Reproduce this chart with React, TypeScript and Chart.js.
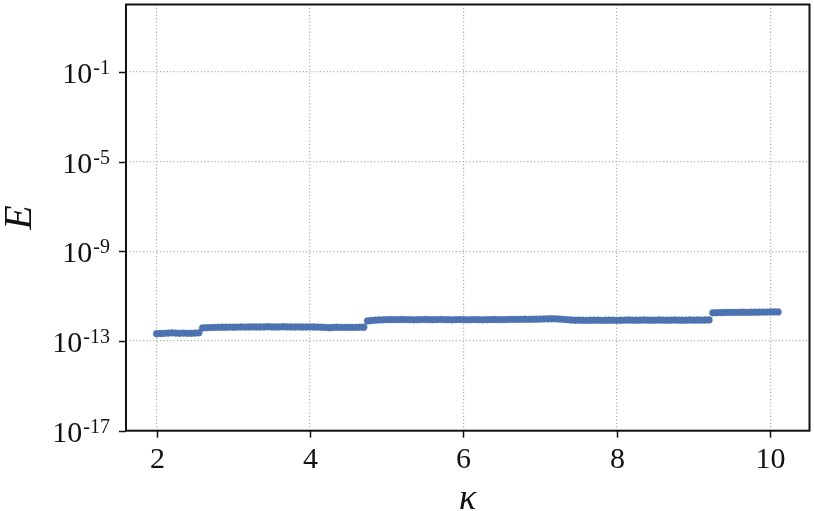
import React, { useEffect, useRef } from "react";
import { Chart, registerables } from "chart.js";

Chart.register(...registerables);

const kappa: number[] = [
  2.0, 2.05, 2.1, 2.15, 2.2, 2.25, 2.3, 2.35, 2.4, 2.45, 2.5, 2.55,
  2.6, 2.65, 2.7, 2.75, 2.8, 2.85, 2.9, 2.95, 3.0, 3.05, 3.1, 3.15, 3.2, 3.25, 3.3, 3.35, 3.4, 3.45,
  3.5, 3.55, 3.6, 3.65, 3.7, 3.75, 3.8, 3.85, 3.9, 3.95, 4.0, 4.05, 4.1, 4.15, 4.2, 4.25, 4.3, 4.35,
  4.4, 4.45, 4.5, 4.55, 4.6, 4.65, 4.7,
  4.75, 4.8, 4.85, 4.9, 4.95, 5.0, 5.05, 5.1, 5.15, 5.2, 5.25, 5.3, 5.35, 5.4, 5.45, 5.5, 5.55, 5.6,
  5.65, 5.7, 5.75, 5.8, 5.85, 5.9, 5.95, 6.0, 6.05, 6.1, 6.15, 6.2, 6.25, 6.3, 6.35, 6.4, 6.45, 6.5,
  6.55, 6.6, 6.65, 6.7, 6.75, 6.8, 6.85, 6.9, 6.95, 7.0, 7.05, 7.1, 7.15, 7.2, 7.25, 7.3, 7.35, 7.4,
  7.45, 7.5, 7.55, 7.6, 7.65, 7.7, 7.75, 7.8, 7.85, 7.9, 7.95, 8.0, 8.05, 8.1, 8.15, 8.2, 8.25, 8.3,
  8.35, 8.4, 8.45, 8.5, 8.55, 8.6, 8.65, 8.7, 8.75, 8.8, 8.85, 8.9, 8.95, 9.0, 9.05, 9.1, 9.15, 9.2,
  9.25, 9.3, 9.35, 9.4, 9.45, 9.5, 9.55, 9.6, 9.65, 9.7, 9.75, 9.8, 9.85, 9.9, 9.95, 10.0, 10.05, 10.1,
];

const errorE: number[] = [
  2.1e-13, 2.15e-13, 2.2e-13, 2.25e-13, 2.3e-13, 2.25e-13, 2.2e-13, 2.25e-13, 2.2e-13, 2.2e-13, 2.25e-13, 2.3e-13,
  3.8e-13, 3.9e-13, 3.95e-13, 4.0e-13, 4.05e-13, 4.1e-13, 4.1e-13, 4.15e-13, 4.1e-13, 4.15e-13, 4.2e-13, 4.15e-13,
  4.2e-13, 4.25e-13, 4.2e-13, 4.2e-13, 4.25e-13, 4.3e-13, 4.25e-13, 4.2e-13, 4.25e-13, 4.3e-13, 4.25e-13, 4.2e-13,
  4.2e-13, 4.25e-13, 4.2e-13, 4.2e-13, 4.25e-13, 4.2e-13, 4.15e-13, 4.1e-13, 4.0e-13, 3.9e-13, 4.0e-13, 4.1e-13,
  4.05e-13, 4.0e-13, 4.05e-13, 4.0e-13, 4.05e-13, 4.1e-13, 4.1e-13,
  7.8e-13, 8.2e-13, 8.5e-13, 8.7e-13, 8.8e-13, 8.9e-13, 9.0e-13, 8.9e-13, 9.0e-13, 9.1e-13, 9.0e-13, 8.9e-13,
  8.8e-13, 8.9e-13, 9.0e-13, 9.1e-13, 9.0e-13, 8.9e-13, 9.0e-13, 9.1e-13, 9.0e-13, 8.9e-13, 8.8e-13, 8.9e-13,
  9.0e-13, 8.9e-13, 8.8e-13, 8.9e-13, 9.0e-13, 8.9e-13, 8.8e-13, 8.9e-13, 9.0e-13, 9.1e-13, 9.0e-13, 8.9e-13,
  9.0e-13, 9.1e-13, 9.2e-13, 9.1e-13, 9.2e-13, 9.3e-13, 9.2e-13, 9.3e-13, 9.4e-13, 9.5e-13, 9.6e-13, 9.7e-13,
  9.8e-13, 9.7e-13, 9.5e-13, 9.2e-13, 8.9e-13, 8.6e-13, 8.4e-13, 8.5e-13, 8.4e-13, 8.3e-13, 8.4e-13, 8.5e-13,
  8.4e-13, 8.3e-13, 8.4e-13, 8.5e-13, 8.4e-13, 8.3e-13, 8.4e-13, 8.5e-13, 8.6e-13, 8.5e-13, 8.4e-13, 8.5e-13,
  8.6e-13, 8.5e-13, 8.4e-13, 8.5e-13, 8.6e-13, 8.5e-13, 8.4e-13, 8.5e-13, 8.6e-13, 8.5e-13, 8.4e-13, 8.5e-13,
  8.6e-13, 8.5e-13, 8.6e-13, 8.5e-13, 8.6e-13, 8.7e-13,
  1.8e-12, 1.83e-12, 1.85e-12, 1.86e-12, 1.87e-12, 1.88e-12, 1.89e-12, 1.9e-12, 1.91e-12, 1.9e-12, 1.91e-12,
  1.92e-12, 1.93e-12, 1.94e-12, 1.95e-12, 1.96e-12, 1.97e-12, 1.98e-12,
];

const xTicks: number[] = [2, 4, 6, 8, 10];
const xTickLabels: string[] = ["2", "4", "6", "8", "10"];
const yTicks: number[] = [1e-17, 1e-13, 1e-9, 1e-5, 1e-1];
const yTickExponents: string[] = ["-17", "-13", "-9", "-5", "-1"];

const SERIF = '"Liberation Serif", "Times New Roman", Times, serif';

const decorPlugin = {
  id: "decor",
  afterDraw(chart: any) {
    const { ctx, chartArea } = chart;
    const xs = chart.scales.x;
    const ys = chart.scales.y;
    const { left, right, top, bottom } = chartArea;
    ctx.save();
    ctx.strokeStyle = "#111";
    ctx.lineWidth = 2;
    ctx.setLineDash([]);
    ctx.strokeRect(left, top, right - left, bottom - top);

    ctx.lineWidth = 1.5;
    ctx.fillStyle = "#111";
    ctx.font = `30px ${SERIF}`;
    ctx.textAlign = "center";
    ctx.textBaseline = "alphabetic";
    xTicks.forEach((v, i) => {
      const px = Math.round(xs.getPixelForValue(v)) + 0.5;
      ctx.beginPath();
      ctx.moveTo(px, bottom);
      ctx.lineTo(px, bottom + 7);
      ctx.stroke();
      ctx.fillText(xTickLabels[i], px, bottom + 37.5);
    });

    yTicks.forEach((v, i) => {
      const py = Math.round(ys.getPixelForValue(v)) + 0.5;
      ctx.beginPath();
      ctx.moveTo(left - 7, py);
      ctx.lineTo(left, py);
      ctx.stroke();
      const rightX = left - 16;
      ctx.textAlign = "left";
      ctx.font = `20px ${SERIF}`;
      const expW = ctx.measureText(yTickExponents[i]).width;
      ctx.font = `30px ${SERIF}`;
      const baseW = ctx.measureText("10").width;
      const startX = rightX - expW - baseW - 1;
      ctx.fillText("10", startX, py + 10);
      ctx.font = `20px ${SERIF}`;
      ctx.fillText(yTickExponents[i], startX + baseW + 1, py + 1);
    });

    ctx.font = `italic 40px ${SERIF}`;
    ctx.textAlign = "center";
    ctx.save();
    ctx.translate(31, (top + bottom) / 2);
    ctx.rotate(-Math.PI / 2);
    ctx.fillText("E", 0, 0);
    ctx.restore();

    ctx.font = `italic 36px ${SERIF}`;
    ctx.fillText("\u03BA", (left + right) / 2, 509);
    ctx.restore();
  },
};

export default function App() {
  const ref = useRef<HTMLCanvasElement>(null);
  useEffect(() => {
    document.body.style.margin = "0";
    const canvas = ref.current!;
    const chart = new Chart(canvas, {
      type: "scatter",
      data: {
        datasets: [
          {
            data: kappa.map((k, i) => ({ x: k, y: errorE[i] })),
            backgroundColor: "#4C72B0",
            borderColor: "#4C72B0",
            pointRadius: 3.4,
            pointBorderWidth: 0.5,
            showLine: false,
          },
        ],
      },
      options: {
        animation: false,
        responsive: false,
        devicePixelRatio: 1,
        layout: { padding: { left: 126, top: 2.5, right: 2, bottom: 80.3 } },
        plugins: { legend: { display: false }, tooltip: { enabled: false } },
        scales: {
          x: {
            type: "linear",
            min: 1.601,
            max: 10.51,
            afterBuildTicks: (s: any) => {
              s.ticks = xTicks.map((v) => ({ value: v }));
            },
            ticks: { display: false },
            grid: { color: "#b0b0b0", lineWidth: 1.2, drawTicks: false },
            border: { display: false, dash: [1.2, 2.2] },
            title: { display: false },
          },
          y: {
            type: "logarithmic",
            min: 1e-17,
            max: 1e2,
            afterBuildTicks: (s: any) => {
              s.ticks = yTicks.map((v) => ({ value: v }));
            },
            ticks: { display: false },
            grid: { color: "#b0b0b0", lineWidth: 1.2, drawTicks: false },
            border: { display: false, dash: [1.2, 2.2] },
            title: { display: false },
          },
        },
      },
      plugins: [decorPlugin],
    });
    return () => chart.destroy();
  }, []);
  return (
    <div style={{ position: "absolute", left: 0, top: 0, width: 814, height: 511 }}>
      <canvas ref={ref} width={814} height={511} style={{ display: "block" }} />
    </div>
  );
}
